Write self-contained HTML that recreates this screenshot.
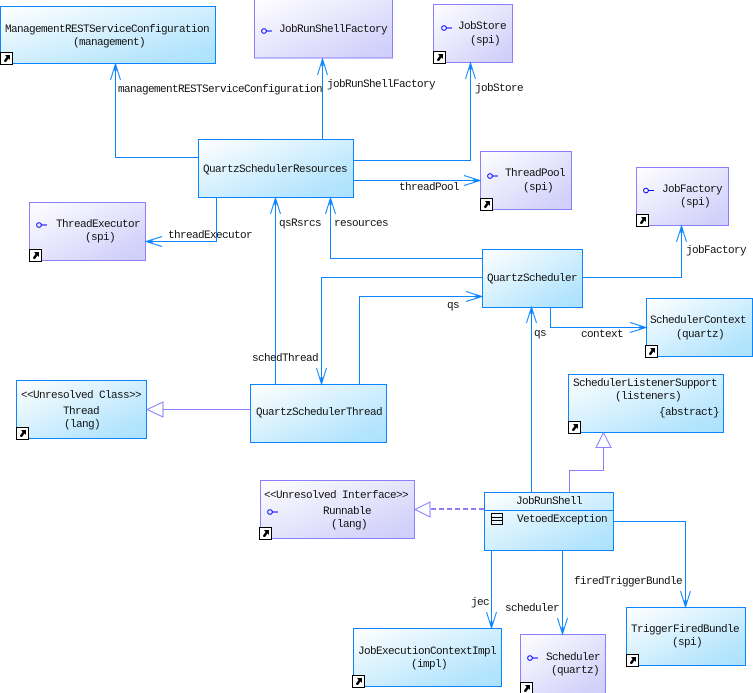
<!DOCTYPE html>
<html><head><meta charset="utf-8"><style>
html,body{margin:0;padding:0;background:#fff}
svg{display:block}
text{font-family:"Liberation Mono",monospace;font-size:11px;letter-spacing:-.6px;fill:#111;white-space:pre}
.b{fill:url(#gb);stroke:#0a84ff}
.p{fill:url(#gp);stroke:#8a80ff}
.l{fill:none;stroke:#0a84ff}
.g{fill:none;stroke:#8a80ff}
</style></head><body>
<svg width="753" height="693" viewBox="0 0 753 693" xmlns="http://www.w3.org/2000/svg">
<defs>
<linearGradient id="gb" x1="0" y1="0" x2="1" y2="1"><stop offset="0" stop-color="#fff"/><stop offset=".85" stop-color="#b2e4fd"/><stop offset="1" stop-color="#ade2fc"/></linearGradient>
<linearGradient id="gp" x1="0" y1="0" x2="1" y2="1"><stop offset="0" stop-color="#fff"/><stop offset=".85" stop-color="#d3d2fa"/><stop offset="1" stop-color="#cfcefa"/></linearGradient>
<g id="s"><rect x=".5" y=".5" width="12" height="12" fill="#fff" stroke="#000"/><path d="M5 3H10V8L8.500 6.500L6 10H4.500L4 8.500L6.500 5Z" fill="#000"/></g>
<g id="c"><circle cx="3" cy="3" r="2.300" fill="none" stroke="#00f"/><path d="M5.500 3H11" stroke="#00f" fill="none"/></g>
<g id="au"><path d="M-5 16L0 0L5 16M-1.500 7L0 0L1.500 7" fill="none" stroke="#0a84ff"/></g>
</defs>

<rect class="b" x=".5" y="6.500" width="215" height="57"/>
<rect class="p" x="254.500" y="-.5" width="138" height="58.500"/>
<rect class="p" x="433.500" y="4.500" width="79" height="58"/>
<rect class="p" x="480.500" y="151.500" width="91" height="58"/>
<rect class="p" x="636.500" y="167.500" width="92" height="58"/>
<rect class="b" x="198.500" y="139.500" width="155" height="58"/>
<rect class="p" x="29.500" y="202.500" width="116" height="58"/>
<rect class="b" x="482.500" y="249.500" width="100" height="58"/>
<rect class="b" x="646.500" y="298.500" width="106" height="58"/>
<rect class="b" x="568.500" y="374.500" width="155" height="58"/>
<rect class="b" x="16.500" y="380.500" width="130" height="58"/>
<rect class="b" x="250.500" y="384.500" width="136" height="58"/>
<rect class="p" x="260.500" y="480.500" width="154" height="58"/>
<rect class="b" x="484.500" y="492.500" width="129" height="58"/>
<path class="l" d="M484.500 510.500H613.500"/>
<rect class="b" x="353.500" y="628.500" width="148" height="58"/>
<rect class="p" x="520.500" y="634.500" width="85" height="59"/>
<rect class="b" x="626.500" y="607.500" width="119" height="58"/>

<path class="l" d="M198 157.500H115.500V64"/>
<path class="l" d="M322.500 139V59"/>
<path class="l" d="M353 160.500H470.500V63"/>
<path class="l" d="M353 180.500H480"/>
<path class="l" d="M216.500 197V241.500H147"/>
<path class="l" d="M275.500 384V198"/>
<path class="l" d="M482 258.500H330.500V198"/>
<path class="l" d="M482 277.500H321.500V384"/>
<path class="l" d="M359.500 384V296.500H482"/>
<path class="l" d="M582 277.500H681.500V226"/>
<path class="l" d="M550.500 307V327.500H646"/>
<path class="l" d="M531.500 492V307"/>
<path class="l" d="M491.500 550V628"/>
<path class="l" d="M562.500 550V634"/>
<path class="l" d="M613 521.500H685.500V607"/>

<use href="#au" transform="translate(115.500 64)"/>
<use href="#au" transform="translate(322.500 59)"/>
<use href="#au" transform="translate(470.500 63)"/>
<use href="#au" transform="translate(275.500 198)"/>
<use href="#au" transform="translate(330.500 198)"/>
<use href="#au" transform="translate(681.500 226)"/>
<use href="#au" transform="translate(531.500 307)"/>
<use href="#au" transform="translate(480 180.500) rotate(90)"/>
<use href="#au" transform="translate(146 241.500) rotate(-90)"/>
<use href="#au" transform="translate(482 296.500) rotate(90)"/>
<use href="#au" transform="translate(646 327.500) rotate(90)"/>
<use href="#au" transform="translate(321.500 384) rotate(180)"/>
<use href="#au" transform="translate(491.500 628) rotate(180)"/>
<use href="#au" transform="translate(562.500 634) rotate(180)"/>
<use href="#au" transform="translate(685.500 607) rotate(180)"/>

<path class="g" d="M250 409.500H163M163 402V417L147 409.500Z"/>
<path class="g" d="M569.500 492V470.500H603.500V447.500M596 447.500H611L603.500 432.500Z"/>
<path class="g" d="M430 502V517L415 509.500Z"/>
<path d="M484 509H430" fill="none" stroke="#8a80ff" stroke-width="2" stroke-dasharray="5 3"/>

<use href="#s" x="0" y="52"/>
<use href="#s" x="433" y="51"/>
<use href="#s" x="480" y="198"/>
<use href="#s" x="636" y="214"/>
<use href="#s" x="29" y="249"/>
<use href="#s" x="645" y="345"/>
<use href="#s" x="568" y="421"/>
<use href="#s" x="16" y="427"/>
<use href="#s" x="259" y="527"/>
<use href="#s" x="352" y="675"/>
<use href="#s" x="520" y="682"/>
<use href="#s" x="626" y="654"/>

<use href="#c" x="261" y="28"/>
<use href="#c" x="441" y="25"/>
<use href="#c" x="487" y="173"/>
<use href="#c" x="643" y="187.500"/>
<use href="#c" x="36" y="222"/>
<use href="#c" x="267" y="509"/>
<use href="#c" x="527" y="655"/>
<path d="M491.500 513.500H502.500V524.500H491.500ZM491.500 517.500H502.500M491.500 520.500H502.500" fill="none" stroke="#000"/>

<text x="5" y="32">ManagementRESTServiceConfiguration</text>
<text x="73" y="45">(management)</text>
<text x="279" y="32">JobRunShellFactory</text>
<text x="458" y="29">JobStore</text>
<text x="470" y="43">(spi)</text>
<text x="505" y="176">ThreadPool</text>
<text x="523" y="190">(spi)</text>
<text x="662" y="192">JobFactory</text>
<text x="680" y="205">(spi)</text>
<text x="203" y="172">QuartzSchedulerResources</text>
<text x="56" y="227">ThreadExecutor</text>
<text x="85" y="240">(spi)</text>
<text x="487" y="281">QuartzScheduler</text>
<text x="650" y="323">SchedulerContext</text>
<text x="676" y="337">(quartz)</text>
<text x="573" y="386">SchedulerListenerSupport</text>
<text x="615" y="399">(listeners)</text>
<text x="659" y="415">{abstract}</text>
<text x="21" y="398">&lt;&lt;Unresolved Class&gt;&gt;</text>
<text x="63" y="414">Thread</text>
<text x="64" y="427">(lang)</text>
<text x="256" y="415">QuartzSchedulerThread</text>
<text x="264" y="498">&lt;&lt;Unresolved Interface&gt;&gt;</text>
<text x="323" y="514">Runnable</text>
<text x="331" y="527">(lang)</text>
<text x="516" y="504">JobRunShell</text>
<text x="517" y="522">VetoedException</text>
<text x="358" y="654">JobExecutionContextImpl</text>
<text x="411" y="667">(impl)</text>
<text x="546" y="660">Scheduler</text>
<text x="551" y="673">(quartz)</text>
<text x="631" y="632">TriggerFiredBundle</text>
<text x="672" y="645">(spi)</text>

<text x="118" y="92">managementRESTServiceConfiguration</text>
<text x="327" y="87">jobRunShellFactory</text>
<text x="475" y="91">jobStore</text>
<text x="399" y="190">threadPool</text>
<text x="168" y="238">threadExecutor</text>
<text x="279" y="226">qsRsrcs</text>
<text x="334" y="226">resources</text>
<text x="686" y="253">jobFactory</text>
<text x="252" y="361">schedThread</text>
<text x="447" y="308">qs</text>
<text x="534" y="336">qs</text>
<text x="581" y="337">context</text>
<text x="574" y="584">firedTriggerBundle</text>
<text x="471" y="605">jec</text>
<text x="505" y="611">scheduler</text>
</svg>
</body></html>
